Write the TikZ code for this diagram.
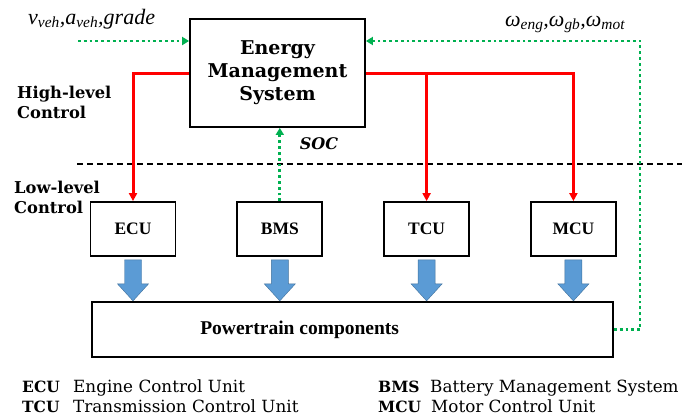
\documentclass[tikz,border=0pt]{standalone}
\usepackage{fontspec}
\setmainfont{Liberation Serif}
\newfontfamily\bookfont{DejaVu Serif}
\usetikzlibrary{arrows.meta,positioning,calc}
\definecolor{EmsRed}{HTML}{FF0000}
\definecolor{EmsGreen}{HTML}{00B050}
\definecolor{EmsBlue}{HTML}{5B9BD5}
\definecolor{EmsBlueEdge}{HTML}{41719C}

\begin{document}
\begin{tikzpicture}[x=1pt,y=-1pt,node distance=60pt and 60pt,every node/.style={align=center,inner sep=0pt}]
    \useasboundingbox (0,0) rectangle (692,418);
    \tikzset{
      unitbox/.style={draw,line width=1.8pt,minimum width=85pt,minimum height=54pt,font=\bfseries\fontsize{17.5}{20}\selectfont},
      ctrl/.style={EmsRed,line width=3pt,-{Triangle[length=8pt,width=8pt]}},
      fback/.style={EmsGreen,line width=2.8pt,dash pattern=on 2.8pt off 3pt,-{Triangle[length=7pt,width=8pt]}},
      lvl/.style={font=\bookfont\bfseries\fontsize{16.3}{20}\selectfont,align=left},
      legkey/.style={font=\bookfont\bfseries\fontsize{15.5}{18}\selectfont,anchor=base west},
      legtext/.style={font=\bookfont\fontsize{16.8}{18}\selectfont,anchor=base west}
    }
    % upper level
    \node[draw,line width=1.8pt,minimum width=175pt,minimum height=108pt,font=\bookfont\bfseries\fontsize{19}{23}\selectfont] (ems) at (277.5,73) {Energy\\Management\\System};
    \node[lvl,anchor=north west] (hilvl) at (17,86) {High-level\\Control};
    \node[lvl,anchor=north west] (lolvl) at (14,181) {Low-level\\Control};
    \node[font=\fontsize{22}{26}\selectfont\itshape,anchor=base west] (vin) at (28,24) {v\textsubscript{veh},a\textsubscript{veh},grade};
    \node[font=\fontsize{22}{26}\selectfont\itshape,anchor=base west] (wout) at (505,26) {ω\textsubscript{eng},ω\textsubscript{gb},ω\textsubscript{mot}};
    \node[font=\bookfont\bfseries\itshape\fontsize{16}{18}\selectfont] (soc) at (319,144) {SOC};
    % lower level
    \node[unitbox] (ecu) at (133,229) {ECU};
    \node[unitbox,right=of ecu] (bms) {BMS};
    \node[unitbox,right=of bms] (tcu) {TCU};
    \node[unitbox,right=of tcu] (mcu) {MCU};
    \node[draw,line width=1.8pt,minimum width=521pt,minimum height=55pt,
      label={[font=\bfseries\fontsize{19.5}{22}\selectfont,anchor=west,xshift=109pt]west:Powertrain components}] (pt) at (352.5,329.5) {};
    \coordinate (dl) at (77,164);
    \coordinate (dr) at (682,164);
    \draw[line width=2.2pt,dash pattern=on 6pt off 4pt] (dl) -- (dr);
    % connectors
    \draw[ctrl] (ems.west) -| (ecu.north);
    \draw[ctrl] (ems.east) -| (mcu.north);
    \draw[ctrl] (ems.east -| tcu.north) -- (tcu.north);
    \coordinate (vstart) at (78,41);
    \coordinate (fbc) at (640,41);
    \draw[fback] (vstart) -- (vstart -| ems.west);
    \draw[fback] (pt.east) -| (fbc) -- (fbc -| ems.east);
    \draw[fback] (bms.north) -- (bms.north |- ems.south);
    \foreach \u in {ecu,bms,tcu,mcu}{\filldraw[fill=EmsBlue,draw=EmsBlueEdge,line width=0.4pt] ([xshift=-8.5pt,yshift=-3pt]\u.south) -- ++(17,0) -- ++(0,24) -- ++(7,0) -- ++(-15.5,17) -- ++(-15.5,-17) -- ++(7,0) -- cycle;}
    % legend
    \node[legkey] (kecu) at (22,392) {ECU};
    \node[legtext] (tecu) at (73,392) {Engine Control Unit};
    \node[legkey] (ktcu) at (22,412) {TCU};
    \node[legtext] (ttcu) at (73,412) {Transmission Control Unit};
    \node[legkey] (kbms) at (378,392) {BMS};
    \node[legtext] (tbms) at (430,392) {Battery Management System};
    \node[legkey] (kmcu) at (378,412) {MCU};
    \node[legtext] (tmcu) at (431,412) {Motor Control Unit};
\end{tikzpicture}
\end{document}
